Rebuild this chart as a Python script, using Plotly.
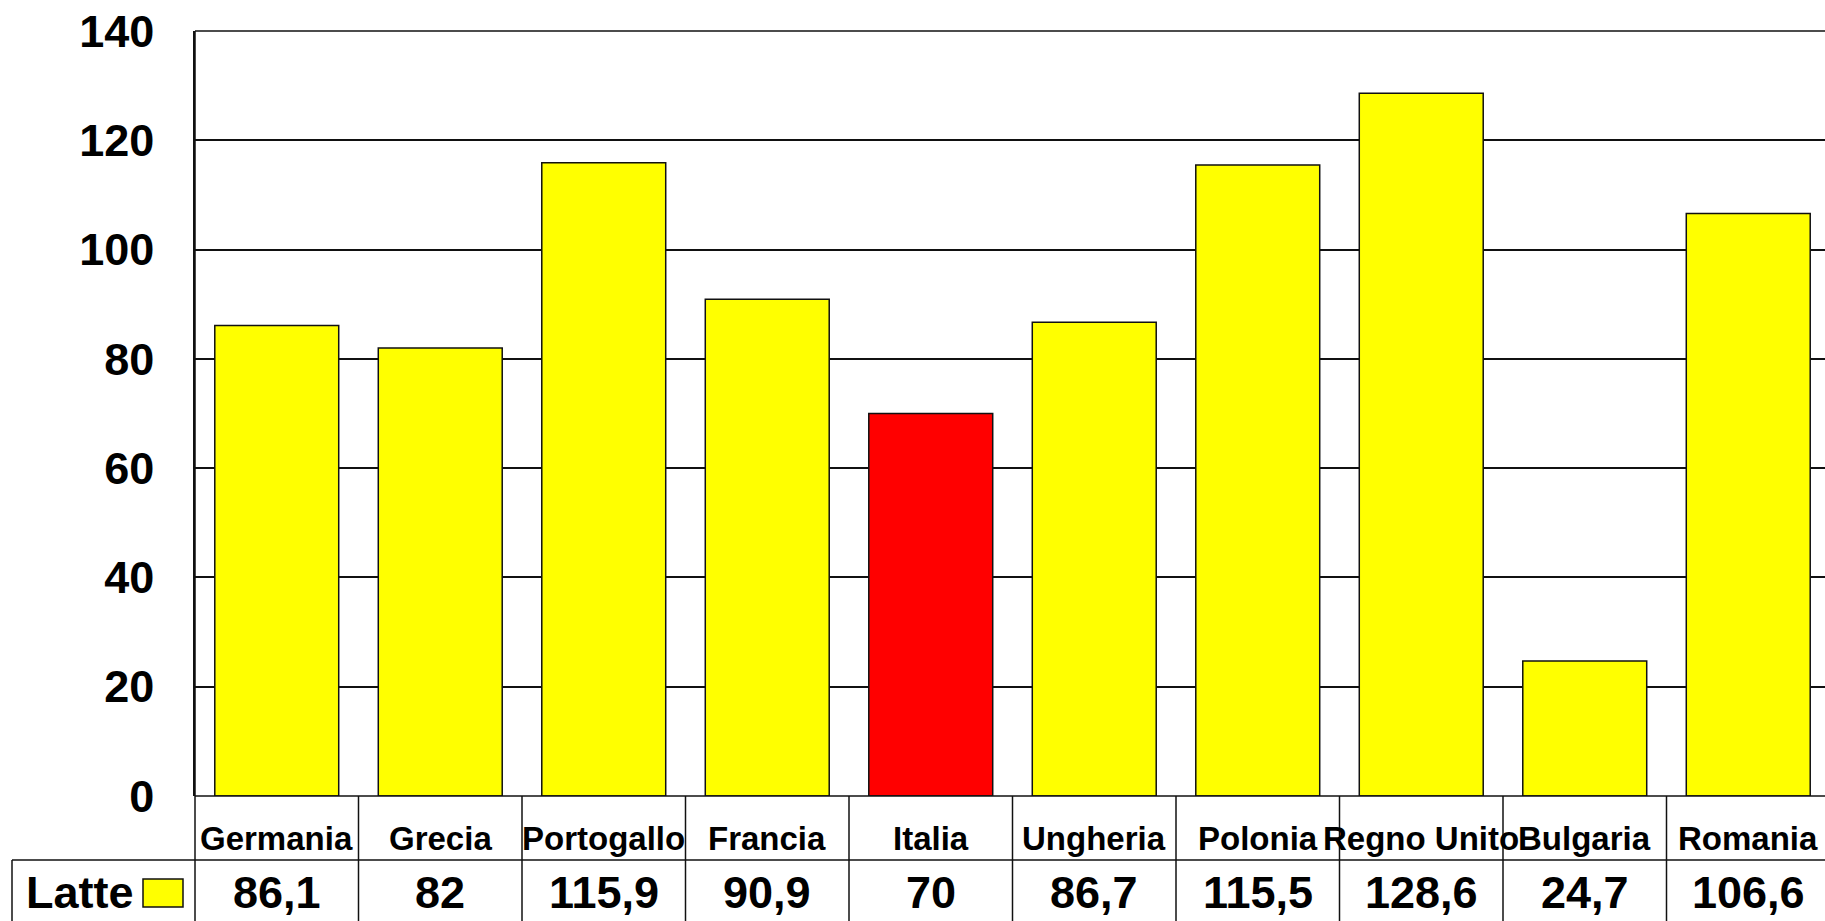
import plotly.graph_objects as go

# ---- data ----
categories = ["Germania", "Grecia", "Portogallo", "Francia", "Italia",
              "Ungheria", "Polonia", "Regno Unito", "Bulgaria", "Romania"]
latte = [86.1, 82, 115.9, 90.9, 70, 86.7, 115.5, 128.6, 24.7, 106.6]
highlight = "Italia"
series_name = "Latte"
y_ticks = [0, 20, 40, 60, 80, 100, 120, 140]

# ---- geometry (pixels) ----
W, H = 1825, 921
L, T = 195, 31
B = H - 796
plot_w = W - L
plot_h = H - T - B
cat_px = 163.5
x_max = -0.5 + plot_w / cat_px


def px_x(px):
    return (px - L) / plot_w


def px_y(py):
    return (H - B - py) / plot_h


FONT = "Liberation Sans, Arial, sans-serif"
LINE = "#111111"

colors = ["#FF0000" if c == highlight else "#FFFF00" for c in categories]


def fmt(v):
    s = f"{v:g}"
    return s.replace(".", ",")


fig = go.Figure(go.Bar(
    x=categories, y=latte, name=series_name,
    marker=dict(color=colors, line=dict(color=LINE, width=1.5)),
    hoverinfo="x+y",
))

shapes = []
annotations = []

row_sep = px_y(860)
bottom = px_y(930)
# baseline / table top
shapes.append(dict(type="line", xref="paper", yref="paper", x0=0, x1=1, y0=0, y1=0,
                   line=dict(color=LINE, width=1.5)))
# top border
shapes.append(dict(type="line", xref="paper", yref="paper", x0=0, x1=1, y0=1, y1=1,
                   line=dict(color=LINE, width=1.5)))
# row separator
shapes.append(dict(type="line", xref="paper", yref="paper", x0=px_x(12), x1=1,
                   y0=row_sep, y1=row_sep, line=dict(color=LINE, width=1.5)))
# left table borders
shapes.append(dict(type="line", xref="paper", yref="paper", x0=0, x1=0, y0=1, y1=bottom,
                   line=dict(color=LINE, width=1.5)))
shapes.append(dict(type="line", xref="paper", yref="paper", x0=px_x(12), x1=px_x(12),
                   y0=row_sep, y1=bottom, line=dict(color=LINE, width=1.5)))
# column separators
for i in range(1, len(categories)):
    shapes.append(dict(type="line", xref="x", yref="paper", x0=i - 0.5, x1=i - 0.5,
                       y0=0, y1=bottom, line=dict(color=LINE, width=1.5)))
# legend key
shapes.append(dict(type="rect", xref="paper", yref="paper", x0=px_x(143), x1=px_x(183),
                   y0=px_y(907), y1=px_y(879), fillcolor="#FFFF00",
                   line=dict(color=LINE, width=1.5)))

for c, v in zip(categories, latte):
    annotations.append(dict(x=c, xref="x", y=px_y(838), yref="paper", text=c,
                            showarrow=False, xanchor="center", yanchor="middle",
                            font=dict(family=FONT, size=33, color="black", weight="bold")))
    annotations.append(dict(x=c, xref="x", y=px_y(892), yref="paper", text=fmt(v),
                            showarrow=False, xanchor="center", yanchor="middle",
                            font=dict(family=FONT, size=45, color="black", weight="bold")))

annotations.append(dict(x=px_x(24), xref="paper", y=px_y(892), yref="paper",
                        text=series_name, showarrow=False, xanchor="left", yanchor="middle",
                        font=dict(family=FONT, size=45, color="black", weight="bold")))

fig.update_layout(
    width=W, height=H,
    margin=dict(l=L, r=0, t=T, b=B, pad=0),
    paper_bgcolor="white", plot_bgcolor="white",
    showlegend=False,
    bargap=0.242,
    shapes=shapes,
    annotations=annotations,
    xaxis=dict(range=[-0.5, x_max], showticklabels=False, showgrid=False,
               showline=False, zeroline=False, ticks=""),
    yaxis=dict(range=[0, 140], tickvals=y_ticks, showgrid=True, gridcolor=LINE,
               gridwidth=1.5, showline=True, linecolor=LINE, linewidth=1.5,
               zeroline=False, ticks="", ticklabelstandoff=30,
               tickfont=dict(family=FONT, size=45, color="black", weight="bold")),
)

fig.write_html("out.html", config={"displayModeBar": False},
               post_script="document.body.style.margin='0';document.body.style.overflow='hidden';")
